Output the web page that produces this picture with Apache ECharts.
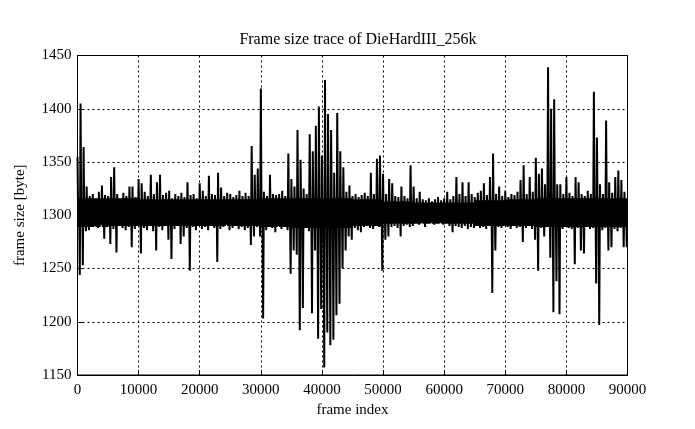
<!DOCTYPE html>
<html>
<head>
<meta charset="utf-8">
<script src="https://cdn.jsdelivr.net/npm/echarts@6/dist/echarts.min.js"></script>
<style>html,body{margin:0;padding:0;background:#fff;}#c{width:695px;height:429px;}</style>
</head>
<body>
<div id="c"></div>
<script>
// Frame size trace, binned every 500 frames: per-bin maximum and minimum (bytes)
const binSize = 500;
const binMax = [
  1355,1405,1364,1327,1318,1320,1316,1322,1328,1319,
  1318,1336,1345,1320,1316,1321,1318,1327,1327,1317,
  1334,1330,1322,1318,1338,1320,1331,1338,1319,1321,
  1323,1316,1320,1318,1321,1317,1331,1319,1320,1316,
  1330,1323,1318,1337,1320,1319,1340,1326,1318,1321,
  1320,1317,1319,1323,1318,1321,1318,1365,1338,1344,
  1419,1322,1318,1338,1320,1319,1320,1323,1318,1358,
  1334,1327,1380,1352,1325,1320,1376,1360,1384,1402,
  1356,1427,1395,1380,1340,1396,1360,1345,1322,1328,
  1318,1320,1317,1319,1321,1318,1340,1320,1353,1356,
  1339,1320,1334,1330,1318,1317,1327,1318,1316,1347,
  1327,1316,1322,1315,1314,1316,1313,1315,1317,1314,
  1316,1322,1315,1318,1336,1320,1331,1318,1331,1320,
  1317,1321,1323,1330,1319,1336,1358,1320,1327,1318,
  1323,1317,1320,1319,1322,1333,1347,1320,1336,1322,
  1354,1339,1344,1329,1439,1400,1409,1329,1329,1320,
  1336,1321,1318,1336,1331,1320,1318,1323,1320,1416,
  1373,1329,1320,1389,1331,1321,1336,1342,1333,1322
];
const binMin = [
  1244,1253,1285,1286,1289,1290,1288,1291,1278,1289,
  1273,1287,1265,1290,1288,1286,1289,1270,1287,1290,
  1264,1288,1286,1290,1285,1267,1289,1286,1290,1277,
  1259,1287,1290,1273,1280,1288,1248,1289,1286,1290,
  1287,1289,1286,1290,1288,1256,1287,1289,1291,1286,
  1288,1290,1287,1289,1286,1288,1272,1280,1289,1280,
  1203,1286,1289,1288,1284,1290,1287,1289,1286,1245,
  1267,1263,1192,1213,1288,1285,1208,1267,1184,1212,
  1157,1190,1178,1183,1206,1217,1250,1267,1280,1277,
  1288,1286,1284,1289,1290,1288,1287,1290,1289,1248,
  1277,1280,1289,1290,1288,1280,1290,1291,1289,1290,
  1292,1291,1293,1289,1292,1293,1291,1292,1293,1291,
  1292,1290,1284,1290,1289,1288,1290,1287,1289,1288,
  1290,1288,1289,1287,1290,1227,1267,1289,1288,1290,
  1289,1287,1290,1288,1289,1275,1288,1290,1287,1277,
  1248,1288,1280,1289,1260,1209,1238,1207,1287,1289,
  1288,1287,1254,1288,1267,1264,1289,1287,1288,1236,
  1197,1286,1288,1267,1270,1287,1285,1288,1270,1270
];
// Typical edges of the dense core band, per 5000 frames
const segSize = 5000;
const bandHi = [1316,1316,1315,1315,1315,1315,1316,1316,1316,1315,1313,1312,1312,1314,1315,1316,1316,1316];
const bandLo = [1289,1290,1290,1290,1290,1290,1289,1288,1288,1290,1292,1292,1292,1290,1290,1289,1289,1289];
const xTicks = [0,10000,20000,30000,40000,50000,60000,70000,80000,90000];
const yTicks = [1150,1200,1250,1300,1350,1400,1450];

const trace = [];
for (let i = 0; i < binMax.length; i++) {
  const x0 = i * binSize;
  const s = Math.floor(x0 / segSize);
  trace.push([x0, binMax[i]]);
  trace.push([x0 + binSize / 4, bandLo[s]]);
  trace.push([x0 + binSize / 2, bandHi[s]]);
  trace.push([x0 + 3 * binSize / 4, binMin[i]]);
}

const font = 'Liberation Serif';
const chart = echarts.init(document.getElementById('c'), null, {renderer: 'canvas'});
chart.setOption({
  animation: false,
  backgroundColor: '#fff',
  title: {
    text: 'Frame size trace of DieHardIII_256k',
    left: 353, top: 27, textAlign: 'center',
    textStyle: {fontFamily: font, fontSize: 16, fontWeight: 'normal', color: '#000'}
  },
  grid: {left: 77.5, right: 67.5, top: 55.5, bottom: 54, show: true, borderColor: '#000', borderWidth: 1, containLabel: false},
  xAxis: {
    type: 'value', min: xTicks[0], max: xTicks[xTicks.length - 1], interval: 10000,
    name: 'frame index', nameLocation: 'middle', nameGap: 28,
    nameTextStyle: {fontFamily: font, fontSize: 15, color: '#000'},
    axisLine: {show: true, lineStyle: {color: '#000'}},
    axisTick: {show: true, inside: true, length: 5, lineStyle: {color: '#000'}},
    axisLabel: {fontFamily: font, fontSize: 15, color: '#000', margin: 8, formatter: v => String(v)},
    splitLine: {show: true, lineStyle: {color: '#000', type: [2, 3], width: 1}}
  },
  yAxis: {
    type: 'value', min: yTicks[0], max: yTicks[yTicks.length - 1], interval: 50,
    name: 'frame size [byte]', nameLocation: 'middle', nameGap: 50, nameRotate: 90,
    nameTextStyle: {fontFamily: font, fontSize: 15, color: '#000'},
    axisLine: {show: true, lineStyle: {color: '#000'}},
    axisTick: {show: true, inside: true, length: 5, lineStyle: {color: '#000'}},
    axisLabel: {fontFamily: font, fontSize: 15, color: '#000', margin: 6, formatter: v => String(v)},
    splitLine: {show: true, lineStyle: {color: '#000', type: [2, 3], width: 1}}
  },
  series: [{
    type: 'line',
    data: trace,
    showSymbol: false,
    symbol: 'none',
    lineStyle: {color: '#000', width: 2},
    silent: true
  }]
});
</script>
</body>
</html>
